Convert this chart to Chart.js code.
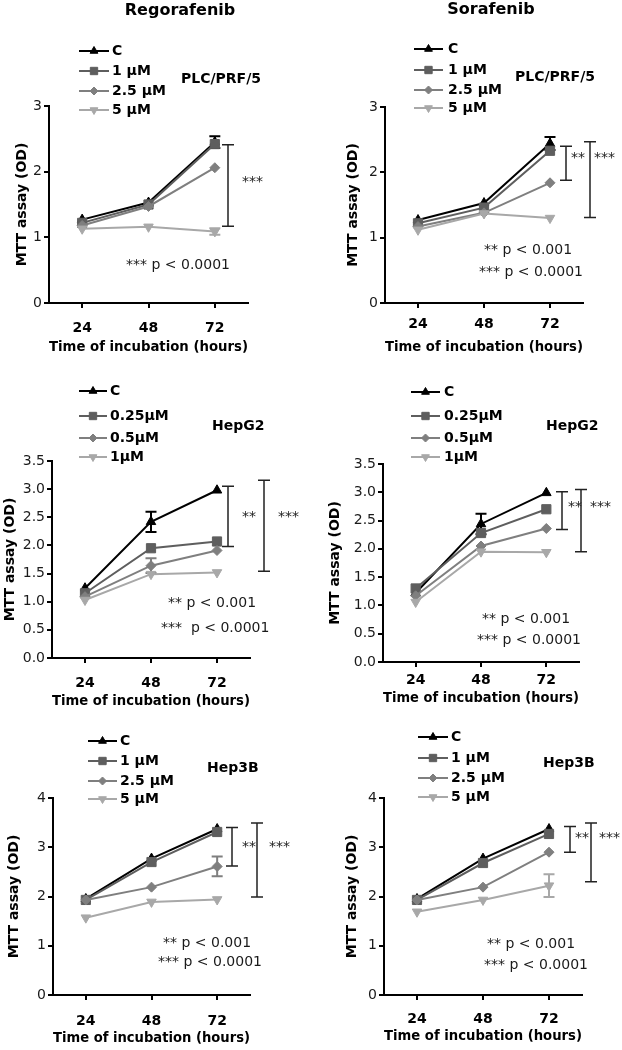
<!DOCTYPE html>
<html>
<head>
<meta charset="utf-8">
<script src="https://cdn.jsdelivr.net/npm/chart.js@4.4.1/dist/chart.umd.min.js"></script>
<style>
  html, body { margin: 0; padding: 0; background: #ffffff; }
  #wrap { position: relative; width: 622px; height: 1050px; overflow: hidden; background: #fff; }
  #wrap canvas { position: absolute; }
</style>
</head>
<body>
<div id="wrap">
  <canvas id="p1"></canvas>
  <canvas id="p2"></canvas>
  <canvas id="p3"></canvas>
  <canvas id="p4"></canvas>
  <canvas id="p5"></canvas>
  <canvas id="p6"></canvas>
</div>
<script>
// ---------------- DATA ----------------
const hours = [24, 48, 72];
const hourLabels = ['24', '48', '72'];

const namesPLC = ['C', '1 µM', '2.5 µM', '5 µM'];
const namesHepG2 = ['C', '0.25µM', '0.5µM', '1µM'];
const namesHep3B = ['C', '1 µM', '2.5 µM', '5 µM'];

const yTicksPLC = [0, 1, 2, 3];
const yLabelsPLC = ['0', '1', '2', '3'];
const yTicksHepG2 = [0, 0.5, 1, 1.5, 2, 2.5, 3, 3.5];
const yLabelsHepG2 = ['0.0', '0.5', '1.0', '1.5', '2.0', '2.5', '3.0', '3.5'];
const yTicksHep3B = [0, 1, 2, 3, 4];
const yLabelsHep3B = ['0', '1', '2', '3', '4'];

// Regorafenib – PLC/PRF/5
const regPlcC   = [1.27, 1.53, 2.45];
const regPlc1   = [1.22, 1.50, 2.42];
const regPlc25  = [1.18, 1.47, 2.06];
const regPlc5   = [1.13, 1.16, 1.09];
const regPlcErrC  = [0, 0, 0.09];
const regPlcErr1  = [0, 0, 0];
const regPlcErr25 = [0, 0, 0];
const regPlcErr5  = [0, 0, 0.05];
const regPlcBrackets = [[2.41, 1.17, '***']];
const regPlcNotes = ['*** p < 0.0001'];

// Sorafenib – PLC/PRF/5
const sorPlcC   = [1.27, 1.53, 2.44];
const sorPlc1   = [1.22, 1.46, 2.33];
const sorPlc25  = [1.17, 1.38, 1.84];
const sorPlc5   = [1.12, 1.37, 1.30];
const sorPlcErrC  = [0, 0, 0.10];
const sorPlcErr1  = [0, 0, 0];
const sorPlcErr25 = [0, 0, 0];
const sorPlcErr5  = [0, 0, 0];
const sorPlcBrackets = [[2.40, 1.88, '**'], [2.47, 1.31, '***']];
const sorPlcNotes = ['** p < 0.001', '*** p < 0.0001'];

// Regorafenib – HepG2
const regHepg2C   = [1.24, 2.42, 2.98];
const regHepg2_025 = [1.15, 1.95, 2.07];
const regHepg2_05  = [1.09, 1.64, 1.91];
const regHepg2_1   = [1.03, 1.49, 1.52];
const regHepg2ErrC   = [0, 0.18, 0];
const regHepg2Err025 = [0, 0, 0];
const regHepg2Err05  = [0, 0.13, 0];
const regHepg2Err1   = [0, 0, 0];
const regHepg2Brackets = [[3.05, 1.98, '**'], [3.16, 1.54, '***']];
const regHepg2Notes = ['** p < 0.001', '***  p < 0.0001'];

// Sorafenib – HepG2
const sorHepg2C    = [1.22, 2.44, 2.99];
const sorHepg2_025 = [1.30, 2.28, 2.70];
const sorHepg2_05  = [1.17, 2.05, 2.36];
const sorHepg2_1   = [1.06, 1.95, 1.94];
const sorHepg2ErrC   = [0, 0.18, 0];
const sorHepg2Err025 = [0, 0, 0];
const sorHepg2Err05  = [0, 0, 0];
const sorHepg2Err1   = [0, 0, 0];
const sorHepg2Brackets = [[3.01, 2.34, '**'], [3.05, 1.95, '***']];
const sorHepg2Notes = ['** p < 0.001', '*** p < 0.0001'];

// Regorafenib – Hep3B
const regHep3bC  = [1.95, 2.77, 3.37];
const regHep3b1  = [1.93, 2.70, 3.31];
const regHep3b25 = [1.93, 2.19, 2.61];
const regHep3b5  = [1.57, 1.89, 1.94];
const regHep3bErrC  = [0, 0, 0];
const regHep3bErr1  = [0, 0, 0];
const regHep3bErr25 = [0, 0, 0.20];
const regHep3bErr5  = [0, 0, 0];
const regHep3bBrackets = [[3.40, 2.62, '**'], [3.49, 1.99, '***']];
const regHep3bNotes = ['** p < 0.001', '*** p < 0.0001'];

// Sorafenib – Hep3B
const sorHep3bC  = [1.95, 2.77, 3.37];
const sorHep3b1  = [1.93, 2.68, 3.27];
const sorHep3b25 = [1.93, 2.19, 2.90];
const sorHep3b5  = [1.69, 1.93, 2.22];
const sorHep3bErrC  = [0, 0, 0];
const sorHep3bErr1  = [0, 0, 0];
const sorHep3bErr25 = [0, 0, 0];
const sorHep3bErr5  = [0, 0, 0.23];
const sorHep3bBrackets = [[3.42, 2.90, '**'], [3.49, 2.30, '***']];
const sorHep3bNotes = ['** p < 0.001', '*** p < 0.0001'];

// ---------------- STYLE / LAYOUT ----------------
const FONT = "'DejaVu Sans', 'Liberation Sans', Arial, sans-serif";
Chart.defaults.font.family = FONT;

const seriesStyles = [
  { color: '#000000', style: 'triangle', rot: 0,   r: 5.5, lr: 4.5 },
  { color: '#5e5e5e', style: 'rect',     rot: 0,   r: 6.5, lr: 5.2 },
  { color: '#7f7f7f', style: 'rectRot',  rot: 0,   r: 5.0, lr: 4.0 },
  { color: '#a8a8a8', style: 'triangle', rot: 180, r: 5.5, lr: 4.5 }
];

const layouts = {
  p1: { ox: 0, oy: 0, cw: 311, ch: 358, L: 49, R: 248, T: 106, B: 303, yTitleX: 22, xTitleY: 347, xLabelY: 328,
        colTitle: { text: 'Regorafenib', x: 180, y: 11 },
        legend: { x1: 79, x2: 109, tx: 112, ys: [51, 71, 91, 110] },
        cell: { x: 181, y: 79 },
        notes: [{ x: 126, y: 265 }],
        brackets: [{ x: 228, lx: 242, ly: 182 }] },
  p2: { ox: 311, oy: 0, cw: 311, ch: 358, L: 385, R: 583, T: 107, B: 303, yTitleX: 353, xTitleY: 347, xLabelY: 324,
        colTitle: { text: 'Sorafenib', x: 491, y: 10 },
        legend: { x1: 414, x2: 443, tx: 448, ys: [49, 70, 90, 108] },
        cell: { x: 515, y: 77 },
        notes: [{ x: 484, y: 250 }, { x: 479, y: 272 }],
        brackets: [{ x: 566, lx: 571, ly: 158 }, { x: 590, lx: 594, ly: 158 }] },
  p3: { ox: 0, oy: 358, cw: 311, ch: 354, L: 52, R: 250, T: 461, B: 658, yTitleX: 10, xTitleY: 701, xLabelY: 683,
        legend: { x1: 79, x2: 107, tx: 110, ys: [391, 416, 438, 457] },
        cell: { x: 212, y: 426 },
        notes: [{ x: 168, y: 603 }, { x: 161, y: 628 }],
        brackets: [{ x: 228, lx: 242, ly: 517 }, { x: 264, lx: 278, ly: 517 }] },
  p4: { ox: 311, oy: 358, cw: 311, ch: 354, L: 383, R: 579, T: 464, B: 662, yTitleX: 335, xTitleY: 698, xLabelY: 680,
        legend: { x1: 411, x2: 440, tx: 444, ys: [392, 416, 438, 457] },
        cell: { x: 546, y: 426 },
        notes: [{ x: 482, y: 619 }, { x: 477, y: 640 }],
        brackets: [{ x: 562, lx: 568, ly: 507 }, { x: 581, lx: 590, ly: 507 }] },
  p5: { ox: 0, oy: 712, cw: 311, ch: 338, L: 53, R: 250, T: 798, B: 995, yTitleX: 14, xTitleY: 1038, xLabelY: 1021,
        legend: { x1: 88, x2: 117, tx: 120, ys: [741, 761, 781, 799] },
        cell: { x: 207, y: 768 },
        notes: [{ x: 163, y: 943 }, { x: 158, y: 962 }],
        brackets: [{ x: 232, lx: 242, ly: 847 }, { x: 257, lx: 269, ly: 847 }] },
  p6: { ox: 311, oy: 712, cw: 311, ch: 338, L: 384, R: 582, T: 798, B: 995, yTitleX: 352, xTitleY: 1036, xLabelY: 1019,
        legend: { x1: 418, x2: 448, tx: 451, ys: [737, 758, 778, 797] },
        cell: { x: 543, y: 763 },
        notes: [{ x: 487, y: 944 }, { x: 484, y: 965 }],
        brackets: [{ x: 570, lx: 575, ly: 838 }, { x: 591, lx: 599, ly: 838 }] }
};

function drawMarker(ctx, style, rot, r, x, y, color) {
  ctx.save();
  ctx.fillStyle = color; ctx.strokeStyle = color; ctx.lineWidth = 1;
  ctx.beginPath();
  if (style === 'triangle') {
    let rad = rot * Math.PI / 180;
    for (let k = 0; k < 3; k++) {
      const px = x + Math.sin(rad) * r, py = y - Math.cos(rad) * r;
      if (k === 0) ctx.moveTo(px, py); else ctx.lineTo(px, py);
      rad += 2 * Math.PI / 3;
    }
    ctx.closePath();
  } else if (style === 'rect') {
    const s = Math.SQRT1_2 * r;
    ctx.rect(x - s, y - s, 2 * s, 2 * s);
  } else {
    ctx.moveTo(x, y - r); ctx.lineTo(x + r, y); ctx.lineTo(x, y + r); ctx.lineTo(x - r, y); ctx.closePath();
  }
  ctx.fill(); ctx.stroke();
  ctx.restore();
}

function makePanel(id, names, series, errs, yTicks, yLabels, yMax, cellName, brackets, notes) {
  const cfg = layouts[id];
  const canvas = document.getElementById(id);
  canvas.width = cfg.cw; canvas.height = cfg.ch;
  canvas.style.left = cfg.ox + 'px'; canvas.style.top = cfg.oy + 'px';
  canvas.style.width = cfg.cw + 'px'; canvas.style.height = cfg.ch + 'px';

  const yTitleLH = 14 * 1.2, xTitleLH = 13.5 * 1.2, xLabLH = 14 * 1.2, tickLen = 5;
  const scaleLeft = cfg.yTitleX - yTitleLH / 2;
  const Wy = cfg.L - scaleLeft;
  const Hx = cfg.xTitleY - cfg.B + xTitleLH / 2;
  const padding = {
    left: scaleLeft - cfg.ox,
    right: cfg.ox + cfg.cw - cfg.R,
    top: cfg.T - cfg.oy,
    bottom: cfg.oy + cfg.ch - cfg.B - Hx
  };
  const xTickPad = cfg.xLabelY - cfg.B - tickLen - xLabLH / 2;

  const datasets = series.map((vals, i) => {
    const st = seriesStyles[i];
    return {
      label: names[i],
      data: hours.map((h, k) => ({ x: h, y: vals[k] })),
      errors: errs[i],
      borderColor: st.color, backgroundColor: st.color,
      borderWidth: 2, tension: 0,
      pointStyle: st.style, pointRotation: st.rot, pointRadius: st.r,
      pointBackgroundColor: st.color, pointBorderColor: st.color, pointBorderWidth: 1,
      order: 4 - i
    };
  });

  const extras = {
    id: 'extras',
    beforeDatasetsDraw(chart) {
      const ctx = chart.ctx, xs = chart.scales.x, ys = chart.scales.y;
      ctx.save();
      chart.data.datasets.forEach(ds => {
        ds.data.forEach((p, k) => {
          const e = ds.errors[k];
          if (!e) return;
          const px = xs.getPixelForValue(p.x);
          const y1 = ys.getPixelForValue(p.y + e), y2 = ys.getPixelForValue(p.y - e);
          ctx.strokeStyle = ds.borderColor; ctx.lineWidth = 2;
          ctx.beginPath();
          ctx.moveTo(px, y1); ctx.lineTo(px, y2);
          ctx.moveTo(px - 5.5, y1); ctx.lineTo(px + 5.5, y1);
          ctx.moveTo(px - 5.5, y2); ctx.lineTo(px + 5.5, y2);
          ctx.stroke();
        });
      });
      ctx.restore();
    },
    afterDraw(chart) {
      const ctx = chart.ctx, ys = chart.scales.y;
      const ox = cfg.ox, oy = cfg.oy;
      ctx.save();
      ctx.textBaseline = 'middle';
      // column title
      if (cfg.colTitle) {
        ctx.fillStyle = '#000'; ctx.textAlign = 'center';
        ctx.font = 'bold 16px ' + FONT;
        ctx.fillText(cfg.colTitle.text, cfg.colTitle.x - ox, cfg.colTitle.y - oy);
      }
      // legend
      ctx.textAlign = 'left';
      ctx.font = 'bold 14px ' + FONT;
      names.forEach((n, i) => {
        const st = seriesStyles[i];
        const y = cfg.legend.ys[i] - oy;
        ctx.strokeStyle = st.color; ctx.lineWidth = 2;
        ctx.beginPath(); ctx.moveTo(cfg.legend.x1 - ox, y); ctx.lineTo(cfg.legend.x2 - ox, y); ctx.stroke();
        drawMarker(ctx, st.style, st.rot, st.lr, (cfg.legend.x1 + cfg.legend.x2) / 2 - ox, y, st.color);
        ctx.fillStyle = '#000';
        ctx.fillText(n, cfg.legend.tx - ox, y);
      });
      // cell line name
      ctx.fillStyle = '#000';
      ctx.font = 'bold 14px ' + FONT;
      ctx.fillText(cellName, cfg.cell.x - ox, cfg.cell.y - oy);
      // brackets
      brackets.forEach((b, i) => {
        const pos = cfg.brackets[i];
        const x = pos.x - ox;
        const y1 = ys.getPixelForValue(b[0]), y2 = ys.getPixelForValue(b[1]);
        ctx.strokeStyle = '#222'; ctx.lineWidth = 1.5;
        ctx.beginPath();
        ctx.moveTo(x, y1); ctx.lineTo(x, y2);
        ctx.moveTo(x - 6, y1); ctx.lineTo(x + 6, y1);
        ctx.moveTo(x - 6, y2); ctx.lineTo(x + 6, y2);
        ctx.stroke();
        ctx.fillStyle = '#222';
        ctx.font = '14px ' + FONT;
        ctx.fillText(b[2], pos.lx - ox, pos.ly - oy);
      });
      // p-value notes
      ctx.fillStyle = '#1a1a1a';
      ctx.font = '14px ' + FONT;
      notes.forEach((t, i) => {
        const pos = cfg.notes[i];
        ctx.fillText(t, pos.x - ox, pos.y - oy);
      });
      ctx.restore();
    }
  };

  const axisGrid = { display: true, drawOnChartArea: false, drawTicks: true, tickLength: tickLen, color: '#000', lineWidth: 2 };
  const axisBorder = { display: true, color: '#000', width: 2 };

  return new Chart(canvas, {
    type: 'line',
    data: { datasets },
    options: {
      responsive: false, animation: false, devicePixelRatio: 1,
      layout: { padding, autoPadding: false },
      plugins: { legend: { display: false }, tooltip: { enabled: false }, title: { display: false } },
      scales: {
        x: {
          type: 'linear', min: 12, max: 84,
          afterBuildTicks: s => { s.ticks = hours.map(v => ({ value: v })); },
          afterFit: s => { s.height = Hx; },
          ticks: { callback: (v, i) => hourLabels[i], font: { size: 14, weight: 'bold' }, color: '#000', padding: xTickPad, autoSkip: false, maxRotation: 0 },
          grid: axisGrid, border: axisBorder,
          title: { display: true, text: 'Time of incubation (hours)', font: { size: 13.5, weight: 'bold' }, color: '#000', padding: 0 }
        },
        y: {
          type: 'linear', min: 0, max: yMax,
          afterBuildTicks: s => { s.ticks = yTicks.map(v => ({ value: v })); },
          afterFit: s => { s.width = Wy; },
          ticks: { callback: (v, i) => yLabels[i], font: { size: 14 }, color: '#1a1a1a', padding: 2 },
          grid: axisGrid, border: axisBorder,
          title: { display: true, text: 'MTT assay (OD)', font: { size: 14, weight: 'bold' }, color: '#000', padding: 0 }
        }
      }
    },
    plugins: [extras]
  });
}

makePanel('p1', namesPLC, [regPlcC, regPlc1, regPlc25, regPlc5], [regPlcErrC, regPlcErr1, regPlcErr25, regPlcErr5],
  yTicksPLC, yLabelsPLC, 3, 'PLC/PRF/5', regPlcBrackets, regPlcNotes);
makePanel('p2', namesPLC, [sorPlcC, sorPlc1, sorPlc25, sorPlc5], [sorPlcErrC, sorPlcErr1, sorPlcErr25, sorPlcErr5],
  yTicksPLC, yLabelsPLC, 3, 'PLC/PRF/5', sorPlcBrackets, sorPlcNotes);
makePanel('p3', namesHepG2, [regHepg2C, regHepg2_025, regHepg2_05, regHepg2_1], [regHepg2ErrC, regHepg2Err025, regHepg2Err05, regHepg2Err1],
  yTicksHepG2, yLabelsHepG2, 3.5, 'HepG2', regHepg2Brackets, regHepg2Notes);
makePanel('p4', namesHepG2, [sorHepg2C, sorHepg2_025, sorHepg2_05, sorHepg2_1], [sorHepg2ErrC, sorHepg2Err025, sorHepg2Err05, sorHepg2Err1],
  yTicksHepG2, yLabelsHepG2, 3.5, 'HepG2', sorHepg2Brackets, sorHepg2Notes);
makePanel('p5', namesHep3B, [regHep3bC, regHep3b1, regHep3b25, regHep3b5], [regHep3bErrC, regHep3bErr1, regHep3bErr25, regHep3bErr5],
  yTicksHep3B, yLabelsHep3B, 4, 'Hep3B', regHep3bBrackets, regHep3bNotes);
makePanel('p6', namesHep3B, [sorHep3bC, sorHep3b1, sorHep3b25, sorHep3b5], [sorHep3bErrC, sorHep3bErr1, sorHep3bErr25, sorHep3bErr5],
  yTicksHep3B, yLabelsHep3B, 4, 'Hep3B', sorHep3bBrackets, sorHep3bNotes);
</script>
</body>
</html>
